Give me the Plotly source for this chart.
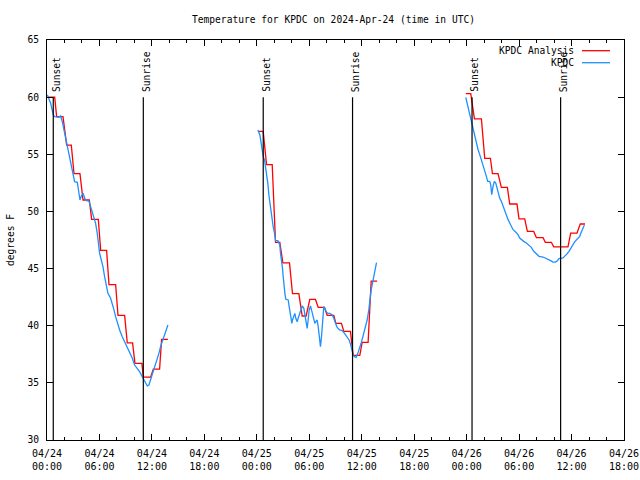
import pandas as pd
import plotly.graph_objects as go

BASE = pd.Timestamp("2024-04-24 00:00")

# KPDC Analysis (red), hours after 04/24 00:00 UTC and deg F
an_h1 = [0.11, 0.88, 1.10, 1.83, 2.25, 2.78, 3.09, 3.77, 4.12, 4.84, 5.11, 5.87, 6.14, 6.82,
         7.09, 7.85, 8.12, 8.88, 9.18, 9.79, 10.06, 10.86, 11.01, 11.85, 12.16, 12.88, 13.11, 13.83]
an_t1 = [60.0, 60.0, 58.3, 58.3, 55.8, 55.8, 53.3, 53.3, 51.0, 51.0, 49.3, 49.3, 46.6, 46.6,
         43.6, 43.6, 40.9, 40.9, 38.5, 38.5, 36.7, 36.7, 35.5, 35.5, 36.2, 36.2, 38.8, 38.8]
an_h2 = [24.23, 24.73, 25.11, 25.76, 26.14, 26.63, 26.98, 27.74, 28.08, 28.81, 29.19, 29.64,
         30.06, 30.71, 31.02, 31.74, 32.05, 32.81, 33.04, 33.68, 33.95, 34.71, 35.02, 35.78,
         36.05, 36.73, 37.08, 37.76]
an_t2 = [57.0, 57.0, 54.1, 54.1, 47.3, 47.3, 45.5, 45.5, 42.8, 42.8, 40.85, 40.85,
         42.3, 42.3, 41.6, 41.6, 40.9, 40.9, 40.2, 40.2, 39.5, 39.5, 37.4, 37.4,
         38.55, 38.55, 43.9, 43.9]
an_h3 = [47.90, 48.47, 48.89, 49.69, 50.07, 50.72, 50.95, 51.59, 51.97, 52.66, 52.93, 53.76,
         53.99, 54.64, 54.95, 55.67, 55.98, 56.74, 57.00, 57.69, 57.96, 59.59, 59.90, 60.62,
         61.00, 61.54]
an_t3 = [60.3, 60.3, 58.1, 58.1, 54.65, 54.65, 53.3, 53.3, 52.1, 52.1, 50.65, 50.65,
         49.35, 49.35, 48.25, 48.25, 47.7, 47.7, 47.3, 47.3, 46.9, 46.9, 48.1, 48.1,
         48.9, 48.9]

# KPDC observations (blue)
ob_h1 = [0.04, 0.42, 0.72, 0.88, 1.37, 1.56, 1.75, 1.94, 2.13, 2.32, 2.51, 2.71, 2.90, 3.01,
         3.16, 3.47, 3.58, 3.77, 3.92, 4.15, 4.30, 4.53, 4.80, 4.99, 5.18, 5.37, 5.56, 5.75,
         5.87, 6.02, 6.21, 6.40, 6.59, 6.78, 6.97, 7.28, 7.47, 7.66, 7.85, 8.04, 8.31, 8.61,
         8.88, 9.18, 9.45, 9.76, 10.02, 10.33, 10.59, 10.90, 11.09, 11.28, 11.47, 11.66, 11.85,
         12.12, 12.35, 12.61, 12.80, 12.99, 13.18, 13.45, 13.68, 13.83]
ob_t1 = [60.19, 59.46, 58.44, 58.29, 58.23, 58.35, 57.85, 57.13, 56.25, 55.67, 54.94, 54.21,
         53.48, 52.9, 52.6, 52.55, 51.88, 51.0, 51.35, 51.58, 51.15, 50.94, 50.91, 50.42,
         49.83, 49.4, 48.96, 48.08, 47.21, 46.33, 45.75, 45.17, 44.29, 43.42, 42.83, 42.4,
         41.96, 41.38, 40.79, 40.21, 39.63, 39.04, 38.6, 38.17, 37.73, 37.15, 36.56, 36.27,
         35.98, 35.54, 35.25, 34.96, 34.73, 34.81, 35.25, 35.98, 36.42, 37.0, 37.58, 38.17,
         38.6, 39.04, 39.63, 40.06]
ob_h2 = [24.12, 24.35, 24.50, 24.62, 24.73, 24.88, 25.00, 25.11, 25.26, 25.38, 25.49, 25.64,
         25.76, 25.87, 26.03, 26.14, 26.41, 26.63, 26.71, 26.83, 26.94, 27.02, 27.09, 27.21,
         27.32, 27.59, 27.70, 27.85, 28.01, 28.08, 28.24, 28.35, 28.46, 28.62, 28.73, 28.92,
         29.07, 29.19, 29.38, 29.49, 29.64, 29.76, 29.87, 29.99, 30.14, 30.33, 30.48, 30.64,
         30.75, 30.90, 31.02, 31.17, 31.28, 31.40, 31.51, 31.59, 31.66, 31.78, 31.93, 32.12,
         32.35, 32.62, 32.81, 33.00, 33.19, 33.46, 33.76, 34.03, 34.33, 34.56, 34.71, 34.87,
         35.02, 35.17, 35.36, 35.55, 35.78, 35.93, 36.08, 36.24, 36.43, 36.62, 36.81, 36.92,
         37.08, 37.23, 37.38, 37.53, 37.69]
ob_t2 = [57.13, 56.69, 55.96, 55.23, 54.79, 54.5, 53.92, 53.33, 52.46, 51.44, 50.71, 49.98,
         49.25, 48.67, 48.08, 47.44, 47.44, 47.06, 46.33, 45.75, 45.02, 44.29, 43.42, 42.83,
         42.31, 42.25, 41.67, 40.79, 40.21, 40.5, 40.79, 41.08, 40.65, 40.35, 40.65, 41.08,
         41.52, 41.73, 41.52, 41.08, 40.5, 39.77, 40.5, 41.38, 41.73, 41.23, 40.79, 40.21,
         40.35, 40.5, 39.92, 38.9, 38.17, 39.04, 39.92, 40.79, 41.67, 41.52, 41.23, 41.08,
         41.08, 40.94, 40.65, 40.21, 39.86, 39.63, 39.57, 39.33, 39.04, 38.75, 38.40, 37.88,
         37.44, 37.29, 37.23, 37.58, 38.02, 38.46, 38.9, 39.33, 39.92, 40.5, 41.38, 42.25,
         43.13, 43.71, 44.29, 45.02, 45.52]
ob_h3 = [47.90, 48.05, 48.20, 48.35, 48.55, 48.66, 48.81, 48.93, 49.12, 49.31, 49.50, 49.69,
         49.88, 50.07, 50.26, 50.41, 50.64, 50.75, 50.87, 51.02, 51.17, 51.33, 51.48, 51.63,
         51.78, 51.97, 52.16, 52.36, 52.55, 52.74, 52.93, 53.12, 53.31, 53.61, 53.88, 54.07,
         54.26, 54.53, 54.83, 55.10, 55.40, 55.67, 55.98, 56.28, 56.74, 57.00, 57.31, 57.61,
         57.88, 58.15, 58.38, 58.57, 59.02, 59.25, 59.48, 59.71, 59.90, 60.17, 60.36, 60.62,
         60.93, 61.12, 61.31, 61.46]
ob_t3 = [59.98, 59.49, 58.90, 58.32, 57.88, 57.53, 57.01, 56.42, 55.84, 55.40, 54.97, 54.53,
         54.09, 53.51, 53.07, 52.63, 52.63, 52.34, 51.47, 52.2, 52.63, 52.49, 52.05, 51.61,
         51.17, 50.88, 50.45, 50.01, 49.57, 49.28, 48.99, 48.70, 48.40, 48.2, 47.97, 47.67,
         47.53, 47.38, 47.24, 47.09, 46.86, 46.51, 46.30, 46.07, 46.01, 45.93, 45.78, 45.69,
         45.57, 45.57, 45.69, 45.87, 45.93, 46.07, 46.28, 46.51, 46.80, 47.09, 47.33, 47.53,
         47.82, 48.2, 48.55, 48.79]

# Sunrise / sunset events
event_times = ["2024-04-24 00:43", "2024-04-24 11:01", "2024-04-25 00:44",
               "2024-04-25 10:57", "2024-04-26 00:37", "2024-04-26 10:45"]
event_labels = ["Sunset", "Sunrise", "Sunset", "Sunrise", "Sunset", "Sunrise"]
event_top = 60
event_bottom = 30

series_names = ["KPDC Analysis", "KPDC"]
series_colors = ["#ff0000", "#1e90ff"]
title_text = "Temperature for KPDC on 2024-Apr-24 (time in UTC)"
y_title = "degrees F"


def join(hs_list, ts_list):
    xs, ys = [], []
    for hs, ts in zip(hs_list, ts_list):
        if xs:
            xs.append(None)
            ys.append(None)
        xs += [BASE + pd.Timedelta(hours=h) for h in hs]
        ys += ts
    return xs, ys


an_x, an_y = join([an_h1, an_h2, an_h3], [an_t1, an_t2, an_t3])
ob_x, ob_y = join([ob_h1, ob_h2, ob_h3], [ob_t1, ob_t2, ob_t3])

FONT = "DejaVu Sans Mono"
FS = 9.6

fig = go.Figure()
fig.add_trace(go.Scatter(x=an_x, y=an_y, mode="lines", name=series_names[0],
                         line=dict(color=series_colors[0], width=1.3), connectgaps=False))
fig.add_trace(go.Scatter(x=ob_x, y=ob_y, mode="lines", name=series_names[1],
                         line=dict(color=series_colors[1], width=1.3), connectgaps=False))

for t, lab in zip(event_times, event_labels):
    fig.add_shape(type="line", xref="x", yref="y", x0=t, x1=t, y0=event_bottom, y1=event_top,
                  line=dict(color="black", width=1.2), layer="above")
    fig.add_annotation(x=t, y=event_top, xref="x", yref="y", text=lab, textangle=-90,
                       showarrow=False, xanchor="center", yanchor="bottom", xshift=3, yshift=4,
                       borderpad=0, font=dict(family=FONT, size=FS, color="black"))

# gnuplot-style key (text left of sample line)
L, R, T, B = 47, 624, 40, 440
def px(xp):
    return (xp - L) / (R - L)
def py(yp):
    return (B - yp) / (B - T)

for i, (nm, col) in enumerate(zip(series_names, series_colors)):
    yy = py(50.7 + 12 * i)
    fig.add_annotation(x=px(575), y=yy, xref="paper", yref="paper", text=nm, showarrow=False,
                       xanchor="right", yanchor="middle", borderpad=0,
                       font=dict(family=FONT, size=FS, color="black"))
    fig.add_shape(type="line", xref="paper", yref="paper", x0=px(582), x1=px(610), y0=yy, y1=yy,
                  line=dict(color=col, width=1.3))

fig.add_annotation(x=px(10), y=0.5, xref="paper", yref="paper", text=y_title, textangle=-90,
                   showarrow=False, xanchor="center", yanchor="middle",
                   font=dict(family=FONT, size=FS, color="black"))

fig.update_layout(
    width=640, height=480,
    margin=dict(l=L, r=640 - R, t=T, b=480 - B, autoexpand=False),
    paper_bgcolor="white", plot_bgcolor="white",
    showlegend=False,
    font=dict(family=FONT, size=FS, color="black"),
    title=dict(text=title_text, x=333.5 / 640, xref="container", xanchor="center",
               y=1 - 20 / 480, yref="container", yanchor="middle",
               font=dict(family=FONT, size=FS, color="black")),
)
fig.update_xaxes(
    type="date", range=["2024-04-24 00:00", "2024-04-26 18:00"], automargin=False,
    dtick=6 * 3600 * 1000, tick0="2024-04-24 00:00", tickformat="%m/%d<br>%H:%M",
    ticks="inside", ticklen=6, tickcolor="black", showgrid=False, zeroline=False,
    showline=True, linecolor="black", linewidth=1, mirror="allticks", ticklabelstandoff=4,
    minor=dict(dtick=2 * 3600 * 1000, ticks="inside", ticklen=3, tickcolor="black", showgrid=False),
    tickfont=dict(family=FONT, size=10, color="black"),
)
fig.update_yaxes(
    range=[30, 65], dtick=5, tick0=30, ticks="inside", ticklen=6, tickcolor="black",
    showgrid=False, zeroline=False, showline=True, linecolor="black", linewidth=1,
    mirror="allticks", ticklabelstandoff=5, automargin=False,
    tickfont=dict(family=FONT, size=FS, color="black"),
)

fig.write_html("out.html", config={"displayModeBar": False},
               post_script="document.body.style.margin='0';")
